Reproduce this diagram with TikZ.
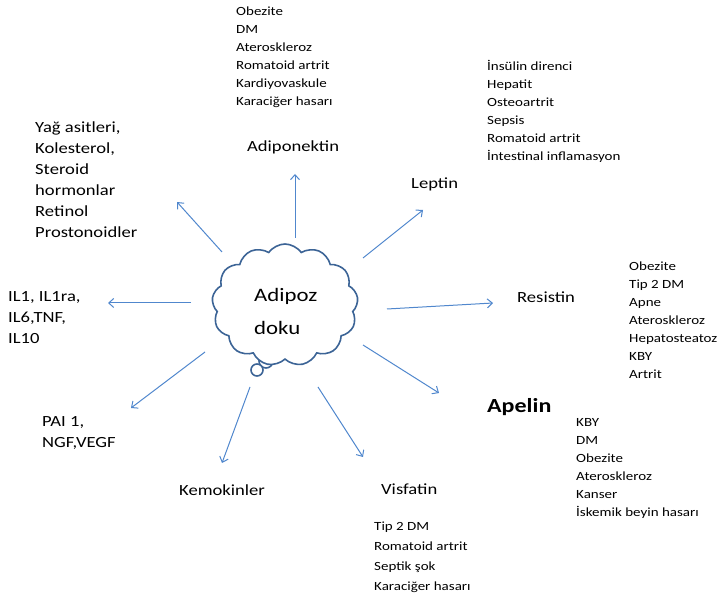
\documentclass[tikz,border=0pt]{standalone}
\usepackage{fontspec}
\setmainfont{Carlito}[FakeStretch=1.2]
\usepackage{tikz}
\usetikzlibrary{shapes.symbols,arrows.meta}
\definecolor{cloud_blue}{RGB}{60, 100, 150}
\definecolor{arr_blue}{RGB}{80, 135, 205}
\tikzstyle{arr}=[draw=arr_blue,line width=1pt,
  -{Straight Barb[length=5pt,width=9pt,line width=1pt]}]
\tikzstyle{hd}=[inner sep=0pt,anchor=west,align=left,
  font=\fontsize{15.5}{21}\selectfont]
\tikzstyle{lst}=[inner sep=0pt,anchor=west,align=left,
  font=\fontsize{12.5}{18}\selectfont]
\tikzstyle{bub}=[draw=cloud_blue,fill=white,line width=1.6pt]

\begin{document}
\begin{tikzpicture}[x=1pt,y=-1pt]
    \useasboundingbox (0,0) rectangle (724,601);
    \draw [style=bub] (266,361) circle (7);
    \node [cloud,cloud puffs=13,cloud puff arc=110,aspect=1.3,
      minimum width=146pt,minimum height=122pt,style=bub] (doku) at (285,305) {};
    \draw [style=bub] (257,370) circle (6);
    \node [style=hd,font=\fontsize{19}{33}\selectfont] (dokutext) at (254,311) {Adipoz\\doku};
    \node [style=lst] (adipolist) at (236,57) {Obezite\\DM\\Ateroskleroz\\Romatoid artrit\\Kardiyovaskule\\Karaciğer hasarı};
    \node [style=hd] (adipo) at (247,147) {Adiponektin};
    \node [style=hd] (leptin) at (411,184) {Leptin};
    \node [style=lst] (leptinlist) at (487,111) {İnsülin direnci\\Hepatit\\Osteoartrit\\Sepsis\\Romatoid artrit\\İntestinal inflamasyon};
    \node [style=hd] (resistin) at (517,297) {Resistin};
    \node [style=lst] (resistinlist) at (629,320) {Obezite\\Tip 2 DM\\Apne\\Ateroskleroz\\Hepatosteatoz\\KBY\\Artrit};
    \node [style=hd,font=\fontsize{20}{24}\bfseries] (apelin) at (487,407) {Apelin};
    \node [style=lst] (apelinlist) at (576,468) {KBY\\DM\\Obezite\\Ateroskleroz\\Kanser\\İskemik beyin hasarı};
    \node [style=hd] (visfatin) at (381,489) {Visfatin};
    \node [style=lst,font=\fontsize{12.5}{20}\selectfont] (visfatinlist) at (374,557) {Tip 2 DM\\Romatoid artrit\\Septik şok\\Karaciğer hasarı};
    \node [style=hd] (kemokin) at (179,490) {Kemokinler};
    \node [style=hd] (pai) at (42,433) {PAI 1,\\NGF,VEGF};
    \node [style=hd] (il) at (8,318) {IL1, IL1ra,\\IL6,TNF,\\IL10};
    \node [style=hd] (yag) at (35,180) {Yağ asitleri,\\Kolesterol,\\Steroid\\hormonlar\\Retinol\\Prostonoidler};
    \coordinate (s1) at (222,252); \coordinate (e1) at (177,202);
    \coordinate (s2) at (295,238); \coordinate (e2) at (295,174);
    \coordinate (s3) at (363,258); \coordinate (e3) at (423,210);
    \coordinate (s4) at (387,309); \coordinate (e4) at (493,303);
    \coordinate (s5) at (363,345); \coordinate (e5) at (439,393);
    \coordinate (s6) at (318,387); \coordinate (e6) at (363,457);
    \coordinate (s7) at (250,387); \coordinate (e7) at (222,463);
    \coordinate (s8) at (205,352); \coordinate (e8) at (131,408);
    \coordinate (s9) at (191,303); \coordinate (e9) at (108,303);
    \draw [style=arr] (s1) to (e1);
    \draw [style=arr] (s2) to (e2);
    \draw [style=arr] (s3) to (e3);
    \draw [style=arr] (s4) to (e4);
    \draw [style=arr] (s5) to (e5);
    \draw [style=arr] (s6) to (e6);
    \draw [style=arr] (s7) to (e7);
    \draw [style=arr] (s8) to (e8);
    \draw [style=arr] (s9) to (e9);
  \end{tikzpicture}
\end{document}
